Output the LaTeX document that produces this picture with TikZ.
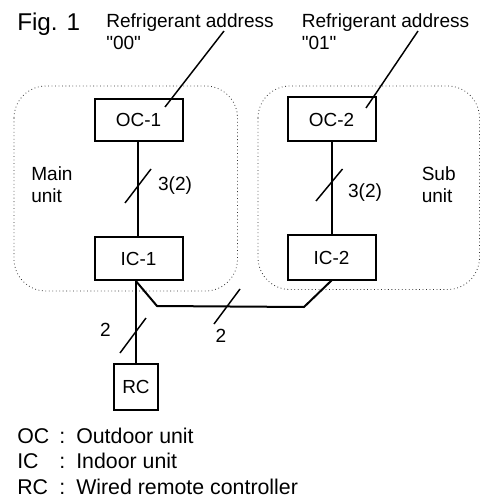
\documentclass[tikz,border=0pt]{standalone}
\usepackage{fontspec}
\setmainfont{Liberation Sans}
\newfontfamily\plainq{Liberation Sans}
\begin{document}
\begin{tikzpicture}[x=0.75pt,y=-0.75pt,
  unitbox/.style={draw=black,line width=1.5pt,inner sep=0pt,font=\fontsize{14.2pt}{16pt}\selectfont},
  groupbox/.style={draw=black!80,dotted,line width=0.6pt,rounded corners=24pt},
  wire/.style={draw=black,line width=1.5pt},
  lead/.style={draw=black,line width=1.1pt},
  lbl/.style={inner sep=0pt,anchor=base west,font=\fontsize{16pt}{18pt}\selectfont},
  small/.style={inner sep=0pt,anchor=base west,font=\fontsize{14.3pt}{16.5pt}\selectfont},
  num/.style={inner sep=0pt,anchor=base,font=\fontsize{14.3pt}{16.5pt}\selectfont}]
\useasboundingbox (0,0) rectangle (485,499);
\draw[groupbox] (14,86) rectangle (237.5,291);
\draw[groupbox] (258,86) rectangle (479.5,289.5);
\node[unitbox,minimum width=66pt,minimum height=32pt] (oc1) at (138.5,120) {OC-1};
\node[unitbox,minimum width=66pt,minimum height=32.5pt] (ic1) at (138.5,258.5) {IC-1};
\node[unitbox,minimum width=66pt,minimum height=33pt] (oc2) at (331.5,119.5) {OC-2};
\node[unitbox,minimum width=66pt,minimum height=33.5pt] (ic2) at (331.5,257.5) {IC-2};
\node[unitbox,minimum width=33.5pt,minimum height=34.5pt] (rc) at (136,387) {RC};
\node[lbl,font=\fontsize{18.2pt}{20pt}\selectfont] (fig) at (17,31) {Fig. 1};
\node[small] (ra1a) at (106,28) {Refrigerant address};
\node[small] (ra1b) at (106,50) {\plainq"00"};
\node[small] (ra2a) at (301.5,28) {Refrigerant address};
\node[small] (ra2b) at (301.5,50) {\plainq"01"};
\node[small] (main1) at (31,180) {Main};
\node[small] (main2) at (31,202) {unit};
\node[small] (sub1) at (421.5,180) {Sub};
\node[small] (sub2) at (421.5,202) {unit};
\node[num] (n32a) at (175,190.5) {3(2)};
\node[num] (n32b) at (365,197) {3(2)};
\node[num] (n2a) at (105.5,336) {2};
\node[num] (n2b) at (221,342) {2};
\node[lbl] (lg1) at (17,443) {OC};
\node[lbl] (lg2) at (17,468.5) {IC};
\node[lbl] (lg3) at (17,494) {RC};
\node[lbl] (c1) at (59,443) {:};
\node[lbl] (c2) at (59,468.5) {:};
\node[lbl] (c3) at (59,494) {:};
\node[lbl] (d1) at (76,443) {Outdoor unit};
\node[lbl] (d2) at (76,468.5) {Indoor unit};
\node[lbl] (d3) at (76,494) {Wired remote controller};
\coordinate (l1a) at (224,31);
\coordinate (l1b) at (165,107);
\coordinate (l2a) at (418,31);
\coordinate (l2b) at (366,108);
\coordinate (b1) at (157,306);
\coordinate (b2) at (304,307);
\coordinate (b3) at (332,280);
\coordinate (s1a) at (151,169); \coordinate (s1b) at (125,203);
\coordinate (s2a) at (342.5,169); \coordinate (s2b) at (316,201);
\coordinate (s3a) at (146,318); \coordinate (s3b) at (120,353);
\coordinate (s4a) at (240,289); \coordinate (s4b) at (214,324);
\draw[lead] (l1a) -- (l1b);
\draw[lead] (l2a) -- (l2b);
\draw[wire] ([xshift=-0.75pt]oc1.south) -- ([xshift=-0.75pt]ic1.north);
\draw[wire] (oc2.south) -- (ic2.north);
\draw[wire] (rc.north) -- (rc.north |- ic1.south);
\draw[wire,line join=round] (rc.north |- ic1.south) -- (b1) -- (b2) -- (b3);
\draw[lead] (s1a) -- (s1b);
\draw[lead] (s2a) -- (s2b);
\draw[lead] (s3a) -- (s3b);
\draw[lead] (s4a) -- (s4b);
\end{tikzpicture}
\end{document}
